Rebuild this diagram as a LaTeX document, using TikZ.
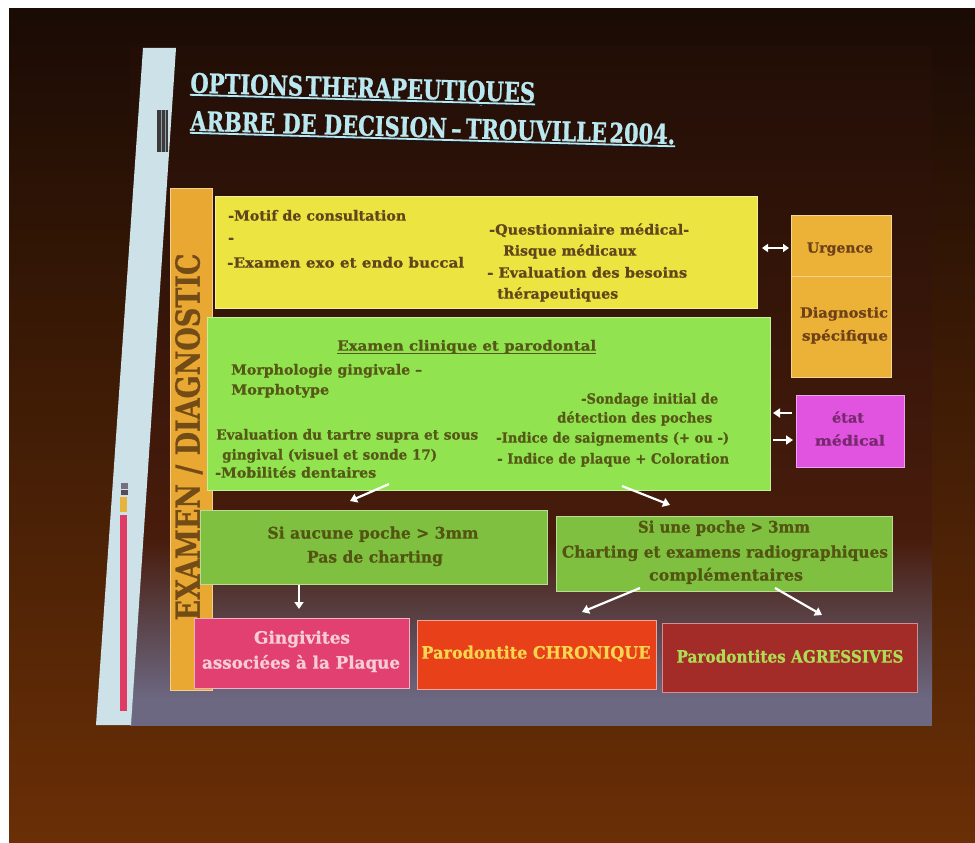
\documentclass[tikz,border=0pt]{standalone}
\usepackage{fontspec}
\setmainfont{DejaVu Serif}[FakeBold=0.9]
\usepackage{graphicx}
\usetikzlibrary{arrows.meta,calc}
\newsavebox\fitbox
\newcommand\fitw[2]{\sbox\fitbox{#2}\pgfmathsetmacro\myfac{#1/\the\wd\fitbox}\scalebox{\myfac}[1]{\usebox\fitbox}}
\definecolor{bgtop}{RGB}{26,11,5}
\definecolor{bgbot}{RGB}{106,47,6}
\definecolor{slidetop}{RGB}{34,14,6}
\definecolor{slidebg}{RGB}{72,28,12}
\definecolor{slate}{RGB}{108,104,130}
\definecolor{barblue}{RGB}{205,225,232}
\definecolor{markdark}{RGB}{60,58,58}
\definecolor{stripgray}{RGB}{120,110,130}
\definecolor{stripyellow}{RGB}{228,180,60}
\definecolor{stripred}{RGB}{222,60,100}
\definecolor{cyellow}{RGB}{236,228,64}
\definecolor{curg}{RGB}{236,178,56}
\definecolor{cexam}{RGB}{232,168,50}
\definecolor{cgreenA}{RGB}{145,228,80}
\definecolor{cgreenB}{RGB}{128,192,64}
\definecolor{cetat}{RGB}{224,84,224}
\definecolor{cpink}{RGB}{226,64,112}
\definecolor{corange}{RGB}{232,64,24}
\definecolor{cdred}{RGB}{164,44,40}
\definecolor{tyellow}{RGB}{95,70,28}
\definecolor{tgreenA}{RGB}{85,88,22}
\definecolor{tgreenB}{RGB}{82,86,18}
\definecolor{turg}{RGB}{110,65,25}
\definecolor{tetat}{RGB}{120,40,110}
\definecolor{texam}{RGB}{115,75,22}
\definecolor{tpink}{RGB}{245,205,215}
\definecolor{torange}{RGB}{248,215,80}
\definecolor{tdred}{RGB}{175,220,85}
\definecolor{tcyan}{RGB}{185,232,240}
\definecolor{tshadow}{RGB}{20,20,25}
\begin{document}
\begin{tikzpicture}[x=1pt,y=-1pt,
  txt/.style={inner sep=0pt, anchor=west, text height=0.72em, text depth=0.2em, font=\bfseries\fontsize{#1}{#1}\selectfont},
  txt/.default=14,
  ctxt/.style={txt=#1, anchor=center},
  ctxt/.default=14,
  box/.style={draw=#1!55!white, line width=0.8pt, fill=#1, inner sep=0pt, anchor=north west},
  ttl/.style={txt=27, text=tcyan, rotate=-1.6},
  arr/.style={draw=white, line width=2.2pt, -{Triangle[length=7pt,width=9pt]}},
  darr/.style={draw=white, line width=2.2pt, {Triangle[length=6pt,width=8pt]}-{Triangle[length=6pt,width=8pt]}},
  ]
\useasboundingbox (0,0) rectangle (975,843);
% photo background
\fill[white] (0,0) rectangle (975,843);
\shade[top color=bgtop, bottom color=bgbot] (9,9) rectangle (975,843);
% slide
\shade[top color=slidetop, bottom color=slidebg] (130,48) rectangle (932,540);
\shade[top color=slidebg, bottom color=slate] (130,540) rectangle (932,700);
\fill[slate] (130,700) rectangle (932,726);
% light bar on the left
\fill[barblue] (143,48) -- (176,48) -- (131,725) -- (96,725) -- cycle;
\fill[markdark] (157,110) rectangle (168,152);
\draw[barblue!60!markdark, line width=1pt] (161,110) -- (161,152) (165,110) -- (165,152);
\fill[stripgray] (121,483) rectangle (128,489);
\fill[stripgray!70!black] (121,490) rectangle (128,495);
\fill[stripyellow] (120,497) rectangle (127,512);
\fill[stripred] (120,515) rectangle (127,711);
% title
\node[ttl] (t1) at (190,90) {\fitw{345}{OPTIONS\hspace{0.12em}THERAPEUTIQUES}};
\node[ttl] (t2) at (190,128) {\fitw{485}{ARBRE DE DECISION\hspace{0.2em}–\hspace{0.2em}TROUVILLE\hspace{0.12em}2004.}};
\draw[tshadow, line width=2pt] ($(t1.south west)+(1.5,1.5)$) -- ($(t1.south east)+(1.5,1.5)$);
\draw[tcyan, line width=1.8pt] (t1.south west) -- (t1.south east);
\draw[tshadow, line width=2pt] ($(t2.south west)+(1.5,1.5)$) -- ($(t2.south east)+(1.5,1.5)$);
\draw[tcyan, line width=1.8pt] (t2.south west) -- (t2.south east);
% EXAMEN / DIAGNOSTIC bar
\node[box=cexam, minimum width=42pt, minimum height=502pt] (exam) at (170,188) {};
\node[txt=33, anchor=center, rotate=90, text=texam] (examt) at (197,437) {\fitw{367}{EXAMEN / DIAGNOSTIC}};
% yellow box
\node[box=cyellow, minimum width=542pt, minimum height=112pt] (yel) at (215,196) {};
\node[txt, text=tyellow] (y1) at (228,218) {\fitw{178}{-Motif de consultation}};
\node[txt, text=tyellow] (y2) at (228,240) {-};
\node[txt, text=tyellow] (y3) at (227,265) {\fitw{237}{-Examen exo et endo buccal}};
\node[txt, text=tyellow] (y4) at (489,232) {\fitw{200}{-Questionniaire médical-}};
\node[txt, text=tyellow] (y5) at (503,253) {\fitw{133}{Risque médicaux}};
\node[txt, text=tyellow] (y6) at (487,275) {\fitw{200}{- Evaluation des besoins}};
\node[txt, text=tyellow] (y7) at (497,296) {\fitw{121}{thérapeutiques}};
% urgence / diagnostic
\node[box=curg, minimum width=100pt, minimum height=162pt] (urg) at (791,215) {};
\draw[curg!60!white, line width=0.8pt] (urg.west |- 0,276) -- (urg.east |- 0,276);
\node[ctxt, text=turg] (urgt) at (840,250) {\fitw{66}{Urgence}};
\node[ctxt, text=turg] (diag1) at (844,315) {\fitw{88}{Diagnostic}};
\node[ctxt, text=turg] (diag2) at (845,338) {\fitw{86}{spécifique}};
% green box
\node[box=cgreenA, minimum width=563pt, minimum height=173pt] (gr) at (207,317) {};
\node[txt, text=tgreenA] (g0) at (337,348) {\fitw{259}{Examen clinique et parodontal}};
\draw[tgreenA, line width=1pt] ($(g0.base west)+(0,3)$) -- ($(g0.base east)+(0,3)$);
\node[txt, text=tgreenA] (g1) at (231,372) {\fitw{191}{Morphologie gingivale –}};
\node[txt, text=tgreenA] (g2) at (231,392) {\fitw{98}{Morphotype}};
\node[txt, text=tgreenA] (g3) at (581,401) {\fitw{137}{-Sondage initial de}};
\node[txt, text=tgreenA] (g4) at (557,420) {\fitw{155}{détection des poches}};
\node[txt, text=tgreenA] (g5) at (216,437) {\fitw{262}{Evaluation du tartre supra et sous}};
\node[txt, text=tgreenA] (g6) at (222,457) {\fitw{215}{gingival (visuel et sonde 17)}};
\node[txt, text=tgreenA] (g7) at (215,475) {\fitw{161}{-Mobilités dentaires}};
\node[txt, text=tgreenA] (g8) at (496,440) {\fitw{233}{-Indice de saignements (+ ou -)}};
\node[txt, text=tgreenA] (g9) at (497,461) {\fitw{232}{- Indice de plaque + Coloration}};
% état médical
\node[box=cetat, minimum width=108pt, minimum height=72pt] (etat) at (796,395) {};
\node[ctxt, text=tetat] (et1) at (848,420) {\fitw{32}{état}};
\node[ctxt, text=tetat] (et2) at (850,443) {\fitw{70}{médical}};
% second row
\node[box=cgreenB, minimum width=347pt, minimum height=74pt] (gl) at (200,510) {};
\node[ctxt=16, text=tgreenB] (gl1) at (373,536) {\fitw{211}{Si aucune poche > 3mm}};
\node[ctxt=16, text=tgreenB] (gl2) at (375,560) {\fitw{136}{Pas de charting}};
\node[box=cgreenB, minimum width=336pt, minimum height=75pt] (grr) at (556,516) {};
\node[ctxt=16, text=tgreenB] (gr1) at (724,530) {\fitw{172}{Si une poche > 3mm}};
\node[ctxt=16, text=tgreenB] (gr2) at (725,555) {\fitw{326}{Charting et examens radiographiques}};
\node[ctxt=16, text=tgreenB] (gr3) at (726,578) {\fitw{154}{complémentaires}};
% bottom row
\node[box=cpink, minimum width=215pt, minimum height=70pt, draw=tpink!80!cpink] (pk) at (194,618) {};
\node[ctxt=17, text=tpink] (pk1) at (302,641) {\fitw{96}{Gingivites}};
\node[ctxt=17, text=tpink] (pk2) at (301,666) {\fitw{198}{associées à la Plaque}};
\node[box=corange, minimum width=239pt, minimum height=69pt, draw=tpink!70!corange] (or) at (417,620) {};
\node[ctxt=17, text=torange] (or1) at (536,656) {\fitw{229}{Parodontite CHRONIQUE}};
\node[box=cdred, minimum width=255pt, minimum height=69pt, draw=tpink!60!cdred] (dr) at (662,623) {};
\node[ctxt=17, text=tdred] (dr1) at (790,660) {\fitw{227}{Parodontites AGRESSIVES}};
% connectors
\coordinate (a1s) at (389,484); \coordinate (a1e) at (350,501);
\coordinate (a2s) at (622,486); \coordinate (a2e) at (670,505);
\coordinate (a3s) at (299,585); \coordinate (a3e) at (299,609);
\coordinate (a4s) at (640,588); \coordinate (a4e) at (582,612);
\coordinate (a5s) at (775,588); \coordinate (a5e) at (822,615);
\coordinate (d1s) at (762,248); \coordinate (d1e) at (789,248);
\coordinate (l1s) at (792,413); \coordinate (l1e) at (773,413);
\coordinate (r1s) at (773,440); \coordinate (r1e) at (793,440);
\draw[arr] (a1s) -- (a1e);
\draw[arr] (a2s) -- (a2e);
\draw[arr] (a3s) -- (a3e);
\draw[arr] (a4s) -- (a4e);
\draw[arr] (a5s) -- (a5e);
\draw[darr] (d1s) -- (d1e);
\draw[arr] (l1s) -- (l1e);
\draw[arr] (r1s) -- (r1e);
\end{tikzpicture}
\end{document}
